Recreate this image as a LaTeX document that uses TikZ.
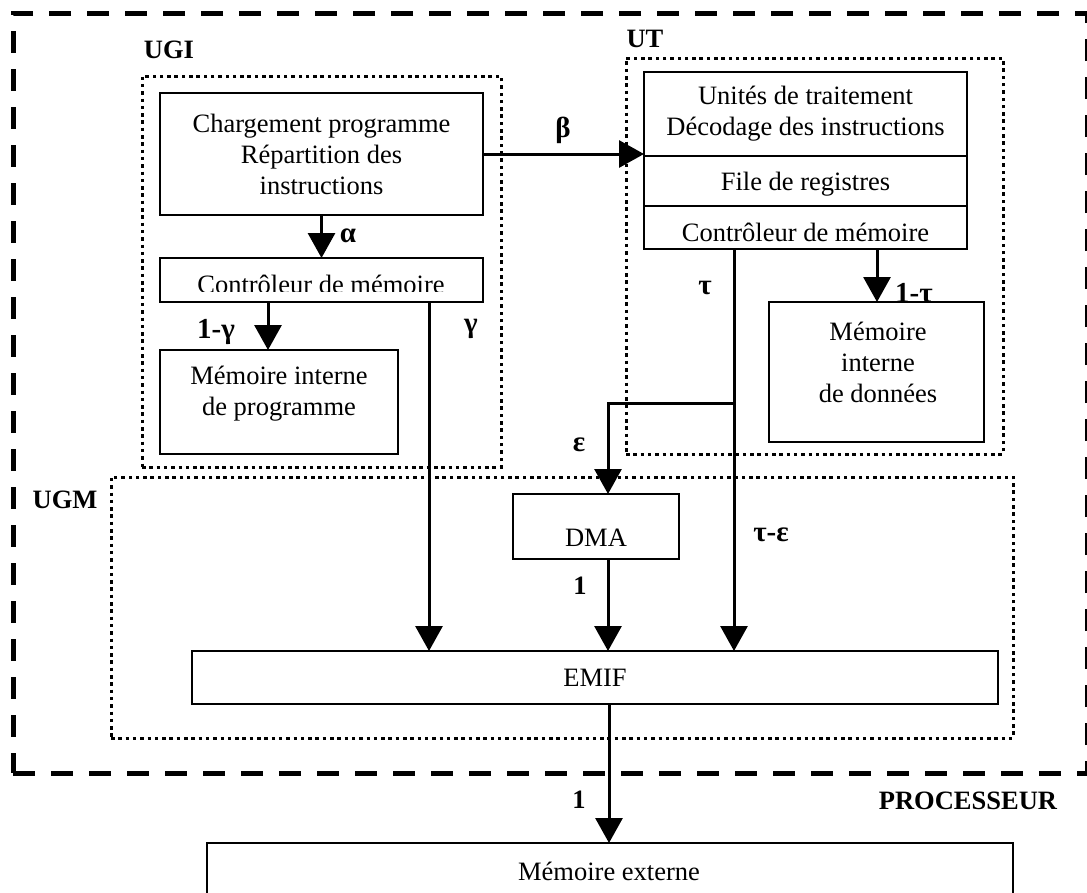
\documentclass[tikz,border=0pt]{standalone}
\usepackage{fontspec}
\setmainfont{Liberation Serif}
\usetikzlibrary{arrows.meta}
\begin{document}
\begin{tikzpicture}[x=1pt,y=-1pt,
  box/.style={draw, line width=2pt, rectangle, inner sep=0pt, outer sep=0pt, align=center,
              font=\fontsize{26.5}{31}\selectfont},
  grp/.style={draw, line width=3pt, dash pattern=on 3.5pt off 3.8pt, rectangle, inner sep=0pt, outer sep=0pt},
  outerbox/.style={draw, line width=5pt, dash pattern=on 22pt off 16pt, rectangle, inner sep=0pt, outer sep=0pt},
  txt/.style={font=\fontsize{26.5}{31}\selectfont, align=center, inner sep=0pt},
  lbl/.style={font=\fontsize{26.5}{31}\selectfont\bfseries, inner sep=0pt},
  glbl/.style={font=\fontsize{29}{31}\selectfont\bfseries, inner sep=0pt},
  flow/.style={line width=3pt, -{Triangle[length=25pt,width=27pt]}},
]
\useasboundingbox (0,0) rectangle (1087,892);
\clip (0,0) rectangle (1087,892);

% group frames
\node[outerbox, minimum width=1074pt, minimum height=760pt] (proc) at (550,393) {};
\node[grp, minimum width=359pt, minimum height=391pt] (ugi) at (321.5,271.5) {};
\node[grp, minimum width=377pt, minimum height=396pt] (ut) at (814.5,256) {};
\node[grp, minimum width=902pt, minimum height=261pt] (ugm) at (562,607.5) {};

% group labels
\node[lbl] (lugi) at (169,50) {UGI};
\node[lbl] (lut) at (645,38.5) {UT};
\node[lbl] (lugm) at (65,499.5) {UGM};
\node[lbl] (lproc) at (968,800.5) {PROCESSEUR};

% UGI boxes
\node[box, minimum width=323pt, minimum height=122pt] (cp) at (321.5,154)
  {Chargement programme\\Répartition des\\instructions};
\node[box, minimum width=323pt, minimum height=44pt] (cm1) at (321.5,280) {};
\begin{scope}
  \clip (161,259) rectangle (482,291);
  \node[txt, anchor=base] (tcm1) at (321,293.5) {Contrôleur de mémoire};
\end{scope}
\node[box, minimum width=238pt, minimum height=104pt] (mip) at (279,402) {};
\node[txt] (tmip) at (279,394) {Mémoire interne\\de programme};

% UT boxes
\node[box, minimum width=323pt, minimum height=84pt] (ut1) at (805.5,114)
  {Unités de traitement\\Décodage des instructions};
\node[box, minimum width=323pt, minimum height=50pt] (ut2) at (805.5,181) {};
\node[txt] (tut2) at (805.5,184) {File de registres};
\node[box, minimum width=323pt, minimum height=43pt] (ut3) at (805.5,227.5) {};
\node[txt] (tut3) at (805.5,232) {Contrôleur de mémoire};
\node[box, minimum width=215pt, minimum height=140pt] (mid) at (876.5,372) {};
\node[txt] (tmid) at (878,362) {Mémoire\\interne\\de données};

% UGM boxes
\node[box, minimum width=166pt, minimum height=65pt] (dma) at (596,526.5) {};
\node[txt] (tdma) at (596,538) {DMA};
\node[box, minimum width=806pt, minimum height=53pt] (emif) at (595,677.5) {EMIF};
\node[box, minimum width=806pt, minimum height=70pt] (mext) at (610,878) {};
\node[txt] (tmext) at (609,871) {Mémoire externe};

% columns
\coordinate (c1) at (268,0);
\coordinate (c2) at (429,0);
\coordinate (c3) at (734,0);
\coordinate (c4) at (608,0);
\coordinate (c5) at (877,0);
\coordinate (c6) at (609,0);
\coordinate (br) at (734,403);

% connectors
\draw[flow] (cp.south) -- (cm1.north);
\draw[flow] (cm1.south -| c1) -- (mip.north -| c1);
\draw[flow] (cm1.south -| c2) -- (emif.north -| c2);
\draw[flow] (cp.east) -- (cp.east -| ut1.west);
\draw[flow] (ut3.south -| c3) -- (emif.north -| c3);
\draw[flow] (br) -| (dma.north -| c4);
\draw[flow] (ut3.south -| c5) -- (mid.north -| c5);
\draw[flow] (dma.south -| c4) -- (emif.north -| c4);
\draw[flow] (emif.south -| c6) -- (mext.north -| c6);

% connector labels
\node[glbl] (la) at (348,236) {α};
\node[glbl] (l1g) at (216,332) {1-γ};
\node[glbl] (lg) at (471,329) {γ};
\node[glbl] (lb) at (563,130) {β};
\node[glbl] (lt) at (705,288) {τ};
\node[glbl] (le) at (579,445) {ε};
\node[glbl] (l1t) at (914,293) {1-τ};
\node[lbl] (l1d) at (580,586) {1};
\node[glbl] (lte) at (771,535) {τ-ε};
\node[lbl] (l1o) at (579,800) {1};
\end{tikzpicture}
\end{document}
